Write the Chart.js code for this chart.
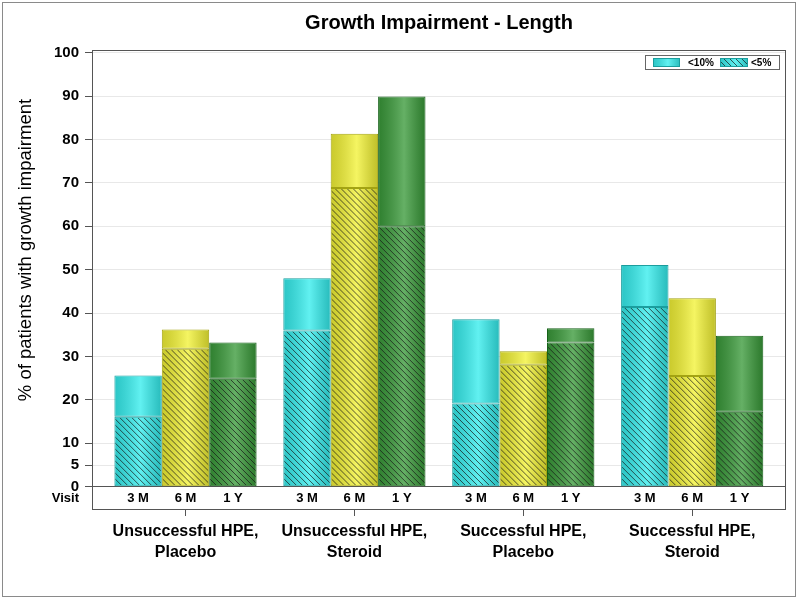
<!DOCTYPE html>
<html>
<head>
<meta charset="utf-8">
<script src="https://cdn.jsdelivr.net/npm/chart.js@4/dist/chart.umd.min.js"></script>
<style>
  html, body { margin: 0; padding: 0; background: #fff; }
  #wrap { width: 800px; height: 600px; position: relative; }
</style>
</head>
<body>
<div id="wrap"><canvas id="c" width="800" height="600"></canvas></div>
<script>
// ---------------- data ----------------
const chartTitle = "Growth Impairment - Length";
const yTitle = "% of patients with growth impairment";
const groupLabels = [["Unsuccessful HPE,", "Placebo"], ["Unsuccessful HPE,", "Steroid"], ["Successful HPE,", "Placebo"], ["Successful HPE,", "Steroid"]];
const visits = ["3 M", "6 M", "1 Y"];
const visitAxisLabel = "Visit";
const legendLabels = ["<10%", "<5%"];
const yTicks = [0, 5, 10, 20, 30, 40, 50, 60, 70, 80, 90, 100];

// <10% (total bar height) per group
const lt10_3M = [25.6, 48.0, 38.6, 51.1];
const lt10_6M = [36.2, 81.3, 31.2, 43.4];
const lt10_1Y = [33.2, 89.9, 36.5, 34.8];
// <5% (hatched part) per group
const lt5_3M = [16.1, 36.0, 19.2, 41.4];
const lt5_6M = [31.8, 68.8, 28.1, 25.5];
const lt5_1Y = [24.9, 60.0, 33.2, 17.3];

// ---------------- styles ----------------
const FONT = "'Liberation Sans', Arial, sans-serif";
const visitColors = [
  { base: '#35eded', border: '#1a9e9e' },
  { base: '#f2f236', border: '#a3a312' },
  { base: '#3a9a3a', border: '#17621a' }
];

const lt10 = [lt10_3M, lt10_6M, lt10_1Y];
const lt5 = [lt5_3M, lt5_6M, lt5_1Y];

const datasets = [];
visits.forEach((v, vi) => {
  datasets.push({
    label: v + ' ' + legendLabels[1],
    stack: v,
    hatched: true,
    visitIndex: vi,
    data: lt5[vi].map((val, gi) => ({ x: gi + 1, y: val })),
    backgroundColor: visitColors[vi].base,
    borderColor: visitColors[vi].border,
    borderWidth: 1,
    borderSkipped: false
  });
  datasets.push({
    label: v + ' ' + legendLabels[0],
    stack: v,
    hatched: false,
    visitIndex: vi,
    data: lt10[vi].map((val, gi) => ({ x: gi + 1, y: val - lt5[vi][gi] })),
    backgroundColor: visitColors[vi].base,
    borderColor: visitColors[vi].border,
    borderWidth: 1,
    borderSkipped: false
  });
});

function shadeRect(ctx, x, y, w, h) {
  const g = ctx.createLinearGradient(x, 0, x + w, 0);
  g.addColorStop(0, 'rgba(0,0,0,0.16)');
  g.addColorStop(0.55, 'rgba(255,255,255,0.22)');
  g.addColorStop(1, 'rgba(0,0,0,0.20)');
  ctx.fillStyle = g;
  ctx.fillRect(x, y, w, h);
}
function hatchRect(ctx, x, y, w, h) {
  ctx.save();
  ctx.beginPath();
  ctx.rect(x, y, w, h);
  ctx.clip();
  ctx.strokeStyle = 'rgba(25,25,25,0.8)';
  ctx.lineWidth = 0.9;
  ctx.beginPath();
  const step = 6;
  for (let t = x - h - step; t < x + w + step; t += step) {
    ctx.moveTo(t, y);
    ctx.lineTo(t + h, y + h);
  }
  ctx.stroke();
  ctx.restore();
}

const decorPlugin = {
  id: 'decor',
  beforeDraw(chart) {
    const ctx = chart.ctx;
    ctx.save();
    ctx.fillStyle = '#fff';
    ctx.fillRect(0, 0, chart.width, chart.height);
    ctx.restore();
  },
  afterDatasetsDraw(chart) {
    const ctx = chart.ctx;
    chart.data.datasets.forEach((ds, di) => {
      const meta = chart.getDatasetMeta(di);
      meta.data.forEach(el => {
        const p = el.getProps(['x', 'y', 'base', 'width'], true);
        const left = p.x - p.width / 2 + 1;
        const w = p.width - 2;
        const top = Math.min(p.y, p.base) + 1;
        const h = Math.abs(p.base - p.y) - 2;
        if (h <= 0) return;
        ctx.save();
        shadeRect(ctx, left, top, w, h);
        if (ds.hatched) hatchRect(ctx, left, top, w, h);
        ctx.restore();
      });
    });
  },
  afterDraw(chart) {
    const ctx = chart.ctx;
    const a = chart.chartArea;
    const ys = chart.scales.y;
    ctx.save();
    // frame
    ctx.strokeStyle = '#555';
    ctx.lineWidth = 1;
    ctx.strokeRect(Math.round(a.left) + 0.5, Math.round(a.top) + 0.5, Math.round(a.right - a.left) - 1, Math.round(a.bottom - a.top));
    // outer border
    ctx.strokeStyle = '#8a8a8a';
    ctx.strokeRect(2.5, 2.5, 793, 594);
    // title
    ctx.fillStyle = '#000';
    ctx.font = 'bold 20px ' + FONT;
    ctx.textAlign = 'center';
    ctx.textBaseline = 'middle';
    ctx.fillText(chartTitle, 439, 23);
    // y title
    ctx.save();
    ctx.translate(26, 250);
    ctx.rotate(-Math.PI / 2);
    ctx.font = '18.5px ' + FONT;
    ctx.fillText(yTitle, 0, 0);
    ctx.restore();
    // visit row
    const zeroY = ys.getPixelForValue(0);
    const rowY = (zeroY + a.bottom) / 2 + 1;
    ctx.font = 'bold 13px ' + FONT;
    ctx.textAlign = 'right';
    ctx.fillText(visitAxisLabel, a.left - 13, rowY);
    ctx.textAlign = 'center';
    ctx.font = 'bold 13px ' + FONT;
    chart.data.datasets.forEach((ds, di) => {
      if (!ds.hatched) return;
      chart.getDatasetMeta(di).data.forEach(el => {
        ctx.fillText(visits[ds.visitIndex], el.x, rowY);
      });
    });
    // legend
    const lx = 645, ly = 55;
    ctx.fillStyle = '#fff';
    ctx.fillRect(lx, ly, 134, 14);
    ctx.strokeStyle = '#666';
    ctx.strokeRect(lx + 0.5, ly + 0.5, 134, 14);
    // swatch 1
    ctx.fillStyle = visitColors[0].base;
    ctx.fillRect(653, 58, 27, 9);
    shadeRect(ctx, 653, 58, 27, 9);
    ctx.strokeStyle = visitColors[0].border;
    ctx.strokeRect(653.5, 58.5, 26, 8);
    ctx.fillStyle = '#000';
    ctx.font = 'bold 10px ' + FONT;
    ctx.textAlign = 'left';
    ctx.textBaseline = 'middle';
    ctx.fillText(legendLabels[0], 688, 63);
    // swatch 2
    ctx.fillStyle = visitColors[0].base;
    ctx.fillRect(720, 58, 28, 9);
    shadeRect(ctx, 720, 58, 28, 9);
    hatchRect(ctx, 720, 58, 28, 9);
    ctx.strokeStyle = visitColors[0].border;
    ctx.strokeRect(720.5, 58.5, 27, 8);
    ctx.fillStyle = '#000';
    ctx.fillText(legendLabels[1], 751, 63);
    ctx.restore();
  }
};

new Chart(document.getElementById('c'), {
  type: 'bar',
  data: { datasets },
  options: {
    responsive: false,
    animation: false,
    devicePixelRatio: 1,
    layout: { padding: { top: 50, right: 14, left: 0, bottom: 0 } },
    categoryPercentage: 0.842,
    barPercentage: 1.0,
    plugins: {
      legend: { display: false },
      title: { display: false },
      tooltip: { enabled: false }
    },
    scales: {
      x: {
        type: 'linear',
        offset: false,
        min: 0.4464,
        max: 4.5554,
        stacked: true,
        afterBuildTicks: (s) => { s.ticks = groupLabels.map((_, i) => ({ value: i + 1 })); },
        afterFit: (s) => { s.height = 91; },
        ticks: {
          autoSkip: false,
          maxRotation: 0,
          callback: (v) => groupLabels[v - 1],
          color: '#000',
          font: { family: FONT, size: 16, weight: 'bold', lineHeight: 1.3 },
          padding: 5
        },
        grid: { drawOnChartArea: false, drawTicks: true, tickLength: 7, tickColor: '#555', offset: false },
        border: { display: false }
      },
      y: {
        stacked: true,
        min: -5.13,
        max: 100.6,
        afterBuildTicks: (s) => { s.ticks = yTicks.map(v => ({ value: v })); },
        afterFit: (s) => { s.width = 92; },
        ticks: {
          autoSkip: false,
          color: '#000',
          font: { family: FONT, size: 15, weight: 'bold' },
          padding: 6
        },
        grid: {
          color: (c) => (c.tick && c.tick.value === 0) ? '#555' : '#e8e8e8',
          tickColor: '#555',
          tickLength: 7,
          drawTicks: true
        },
        border: { display: false }
      }
    }
  },
  plugins: [decorPlugin]
});
</script>
</body>
</html>
